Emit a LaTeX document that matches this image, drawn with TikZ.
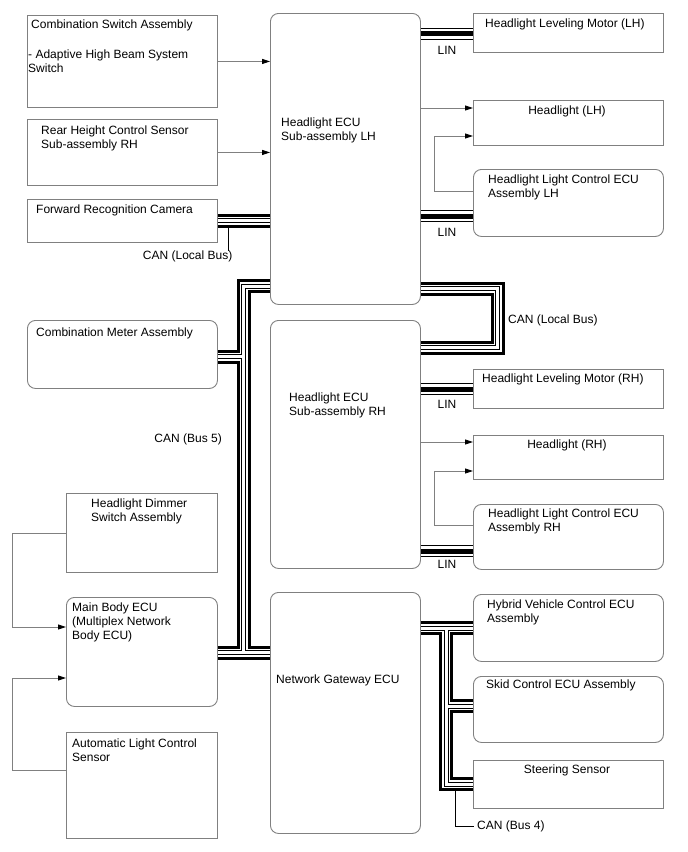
\documentclass[tikz,border=0pt]{standalone}
\usepackage{fontspec}
\setmainfont{Liberation Sans}
\usetikzlibrary{arrows.meta,positioning}
\definecolor{edgegray}{RGB}{128,128,128}
\tikzset{
  wd/.style={x=1pt, y=-1pt, font=\fontsize{12}{14}\selectfont},
  blk/.style={draw=edgegray, line width=0.9pt, fill=white, anchor=north west, inner sep=0pt},
  ecu/.style={blk, rounded corners=8pt},
  txt/.style={anchor=north west, inner sep=0pt, align=left},
  ctr/.style={anchor=north, inner sep=0pt},
  sig/.style={draw=edgegray, line width=0.9pt, -{Triangle[length=8pt,width=5pt,color=black]}},
  lead/.style={draw=black, line width=0.8pt}
}
% bus wires, drawn layer by layer so that the branches merge
\newcommand{\canbus}[1]{\foreach \w/\c in {14/black,8/white,5/black,3/white}{\draw[line width=\w pt, draw=\c] #1;}}
\newcommand{\linbus}[1]{\foreach \w/\c in {12/black,10/white,5/black}{\draw[line width=\w pt, draw=\c] #1;}}

\begin{document}
\begin{tikzpicture}[wd]
\useasboundingbox (0,0) rectangle (688,852);
% left column
\node[blk, minimum width=190pt, minimum height=92pt] (csw) at (27,15) {};
\node[blk, minimum width=190pt, minimum height=66pt] (rhs) at (27,119) {};
\node[blk, minimum width=190pt, minimum height=43pt] (fcam) at (27,199) {};
\node[ecu, minimum width=190pt, minimum height=68pt] (cmeter) at (27,320) {};
\node[blk, minimum width=151pt, minimum height=79pt] (hdim) at (66,493) {};
\node[ecu, minimum width=151pt, minimum height=109pt] (mbecu) at (66,597) {};
\node[blk, minimum width=151pt, minimum height=106pt] (alcs) at (66,732) {};
% ECUs
\node[ecu, minimum width=150pt, minimum height=291pt] (ecuL) at (270,13) {};
\node[ecu, minimum width=150pt, minimum height=248pt] (ecuR) at (270,320) {};
\node[ecu, minimum width=150pt, minimum height=241pt] (gw) at (270,592) {};
% right column
\node[blk, minimum width=190pt, minimum height=39pt] (lvlL) at (473,13) {};
\node[blk, minimum width=190pt, minimum height=45pt] (hlL) at (473,100) {};
\node[ecu, minimum width=190pt, minimum height=67pt] (hlcL) at (473,169) {};
\node[blk, minimum width=190pt, minimum height=39pt] (lvlR) at (473,369) {};
\node[blk, minimum width=190pt, minimum height=44pt] (hlR) at (473,435) {};
\node[ecu, minimum width=190pt, minimum height=65pt] (hlcR) at (473,504) {};
\node[ecu, minimum width=190pt, minimum height=67pt] (hvecu) at (473,594) {};
\node[ecu, minimum width=190pt, minimum height=66pt] (skid) at (473,676) {};
\node[blk, minimum width=190pt, minimum height=48pt] (steer) at (473,760) {};

% box texts
\node[txt] (csw-txt) at (28,19.3) {\hspace*{3pt}Combination Switch Assembly\\[16.7pt]- Adaptive High Beam System\\Switch};
\node[txt] (rhs-txt) at (41,126) {Rear Height Control Sensor\\Sub-assembly RH};
\node[txt] (fcam-txt) at (36,204.3) {Forward Recognition Camera};
\node[txt] (cmeter-txt) at (36,327.7) {Combination Meter Assembly};
\node[txt] (hdim-txt) at (91,499) {Headlight Dimmer\\Switch Assembly};
\node[txt] (mbecu-txt) at (72,603) {Main Body ECU\\(Multiplex Network\\Body ECU)};
\node[txt] (alcs-txt) at (72,739) {Automatic Light Control\\Sensor};
\node[txt] (ecuL-txt) at (281,118) {Headlight ECU\\Sub-assembly LH};
\node[txt] (ecuR-txt) at (289,393) {Headlight ECU\\Sub-assembly RH};
\node[txt] (gw-txt) at (276,675) {Network Gateway ECU};
\node[txt] (lvlL-txt) at (485,18.3) {Headlight Leveling Motor (LH)};
\node[ctr] (hlL-txt) at (567,106) {Headlight (LH)};
\node[txt] (hlcL-txt) at (488,174.3) {Headlight Light Control ECU\\Assembly LH};
\node[txt] (lvlR-txt) at (482,373.3) {Headlight Leveling Motor (RH)};
\node[ctr] (hlR-txt) at (567,440) {Headlight (RH)};
\node[txt] (hlcR-txt) at (488,509) {Headlight Light Control ECU\\Assembly RH};
\node[txt] (hvecu-txt) at (487,600) {Hybrid Vehicle Control ECU\\Assembly};
\node[txt] (skid-txt) at (486,679.3) {Skid Control ECU Assembly};
\node[ctr] (steer-txt) at (567,765) {Steering Sensor};

% CAN buses
\canbus{(fcam.east |- 0,220.5) -- (ecuL.west |- 0,220.5)}
\canbus{(ecuL.east |- 0,288.5) -| (497.5,318) |- (ecuR.east |- 0,347.5)}
\canbus{(cmeter.east |- 0,356.5) -- (243.5,356.5)
        (mbecu.east |- 0,652.5) -- (gw.west |- 0,652.5)
        (243.5,652.5) |- (ecuL.west |- 0,286)}
\canbus{(gw.east |- 0,628) -- (hvecu.west |- 0,628)
        (446,628) |- (steer.west |- 0,784)
        (446,706) -- (skid.west |- 0,706)}
% LIN lines
\linbus{(ecuL.east |- 0,33.5) -- (lvlL.west |- 0,33.5)
        (ecuL.east |- 0,216) -- (hlcL.west |- 0,216)
        (ecuR.east |- 0,389) -- (lvlR.west |- 0,389)
        (ecuR.east |- 0,551) -- (hlcR.west |- 0,551)}

% bus labels
\node[anchor=north east, inner sep=0pt] (lbus1) at (232.5,251) {CAN (Local Bus)};
\node[txt] (lbus2) at (508,314.5) {CAN (Local Bus)};
\node[anchor=north east, inner sep=0pt] (bus5) at (222,434) {CAN (Bus 5)};
\node[anchor=west, inner sep=0pt] (bus4) at (477,826) {CAN (Bus 4)};
\node[ctr] (lin1) at (447,46.5) {LIN};
\node[ctr] (lin2) at (447,228.3) {LIN};
\node[ctr] (lin3) at (447,400) {LIN};
\node[ctr] (lin4) at (447,560) {LIN};
\coordinate (lbus-tap) at (228,227.5);
\coordinate (bus4-tap) at (455,791);
\draw[lead] (lbus-tap) -- (lbus-tap |- lbus1.north);
\draw[lead] (bus4-tap) |- ([xshift=-3pt]bus4.west);

% signal lines
\draw[sig] (csw.east) -- (csw.east -| ecuL.west);
\draw[sig] (rhs.east) -- (rhs.east -| ecuL.west);
\draw[sig] (ecuL.east |- 0,108) -- (hlL.west |- 0,108);
\draw[sig] (hlcL.west |- 0,191) -- ++(-39,0) |- (hlL.west |- 0,136);
\draw[sig] (ecuR.east |- 0,442) -- (hlR.west |- 0,442);
\draw[sig] (hlcR.west |- 0,525) -- ++(-39,0) |- (hlR.west |- 0,471);
\draw[sig] (hdim.west) -- ++(-54,0) |- (mbecu.west |- 0,627);
\draw[sig] (alcs.west |- 0,770) -- ++(-54,0) |- (mbecu.west |- 0,678);
\end{tikzpicture}
\end{document}
